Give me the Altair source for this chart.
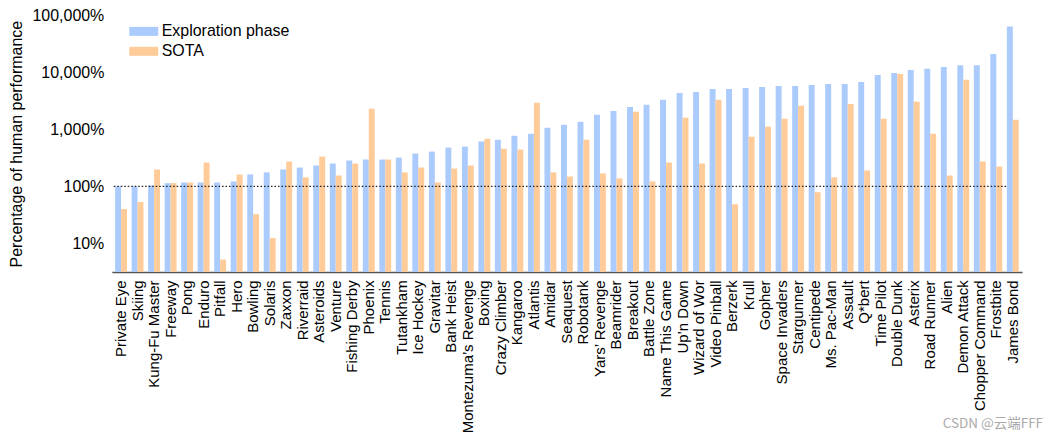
import altair as alt
import pandas as pd

games = ["Private Eye", "Skiing", "Kung-Fu Master", "Freeway", "Pong", "Enduro", "Pitfall", "Hero",
         "Bowling", "Solaris", "Zaxxon", "Riverraid", "Asteroids", "Venture", "Fishing Derby", "Phoenix",
         "Tennis", "Tutankham", "Ice Hockey", "Gravitar", "Bank Heist", "Montezuma\u2019s Revenge", "Boxing",
         "Crazy Climber", "Kangaroo", "Atlantis", "Amidar", "Seaquest", "Robotank", "Yars\u2019 Revenge",
         "Beamrider", "Breakout", "Battle Zone", "Name This Game", "Up\u2019n Down", "Wizard of Wor",
         "Video Pinball", "Berzerk", "Krull", "Gopher", "Space Invaders", "Stargunner", "Centipede",
         "Ms. Pac-Man", "Assault", "Q*bert", "Time Pilot", "Double Dunk", "Asterix", "Road Runner",
         "Alien", "Demon Attack", "Chopper Command", "Frostbite", "James Bond"]

exploration = [100, 100, 104, 114, 117, 117, 117, 122, 162, 176, 198, 214, 232, 252, 284, 296,
               296, 320, 377, 408, 479, 499, 611, 661, 777, 842, 1070, 1206, 1364, 1806,
               2111, 2482, 2700, 3300, 4370, 4540, 5130, 5130, 5340, 5560, 5780, 5780, 6000,
               6250, 6250, 6770, 9000, 9800, 11000, 11600, 12400, 13400, 13400, 21000, 64000]

sota = [40, 53, 198, 114, 117, 262, 5.2, 162, 32.5, 12.4, 273, 144, 334, 155, 252, 2300,
        296, 176, 214, 117, 206, 232, 688, 460, 442, 2924, 176, 149, 661, 169,
        138, 2033, 122, 262, 1600, 252, 3300, 48.5, 745, 1114, 1540, 2590, 79,
        144, 2800, 190, 1540, 9400, 3050, 842, 155, 7400, 273, 223, 1470]

series_names = ["Exploration phase", "SOTA"]
series_colors = ["#abcbfd", "#fecb99"]
y_ticks = [10, 100, 1000, 10000, 100000]

rows = []
for g, e, s in zip(games, exploration, sota):
    rows.append({"game": g, "series": series_names[0], "value": e})
    rows.append({"game": g, "series": series_names[1], "value": s})
df = pd.DataFrame(rows)

W, H = 912, 257
FONT = "Liberation Sans"

bars = alt.Chart(df).mark_bar().encode(
    x=alt.X("game:N", sort=games,
            scale=alt.Scale(paddingInner=0.28, paddingOuter=0.2),
            axis=alt.Axis(title=None, labelAngle=-90, labelAlign="right", labelBaseline="middle",
                          ticks=False, labelPadding=8, labelFontSize=15, labelFont=FONT,
                          labelColor="#000", domainColor="#555", domainWidth=1.5,
                          labelOverlap=False)),
    xOffset=alt.XOffset("series:N", sort=series_names,
                        scale=alt.Scale(paddingInner=0, paddingOuter=0)),
    y=alt.Y("value:Q",
            scale=alt.Scale(type="log", domain=[3.16, 100000], clamp=True, nice=False),
            axis=alt.Axis(title="Percentage of human performance", values=y_ticks,
                          labelExpr="format(datum.value, ',') + '%'",
                          ticks=False, domain=False, grid=False, labelPadding=8,
                          labelFontSize=16, labelFont=FONT, labelColor="#000",
                          titleFontSize=16, titleFont=FONT, titleFontWeight="normal",
                          titleColor="#000", titleX=-95, titleBaseline="middle")),
    color=alt.Color("series:N", sort=series_names,
                    scale=alt.Scale(domain=series_names, range=series_colors),
                    legend=alt.Legend(title=None, orient="none", legendX=24, legendY=8,
                                      symbolType="M-2.9,-0.9H2.9V0.9H-2.9Z", symbolSize=100,
                                      symbolStrokeWidth=0, labelFontSize=16, labelFont=FONT,
                                      labelColor="#000", labelOffset=10, rowPadding=4,
                                      symbolOpacity=1)),
)

ref_df = pd.DataFrame({"value": [100]})
ref = alt.Chart(ref_df).mark_rule(color="#222", strokeDash=[1.5, 2], strokeWidth=1.2).encode(
    y="value:Q", x=alt.value(2), x2=alt.value(W - 14)
)

wm_df = pd.DataFrame({"t": ["CSDN @云端FFF"]})
wm = alt.Chart(wm_df).mark_text(align="right", baseline="middle", fontSize=13.5,
                                font="Noto Sans CJK SC", color="#aaaaaa").encode(
    text="t:N", x=alt.value(W + 21), y=alt.value(H + 152)
)

chart = alt.layer(bars, ref, wm).properties(
    width=W, height=H,
    autosize=alt.AutoSizeParams(type="none"),
    padding={"left": 104, "top": 7, "right": 30, "bottom": 160},
).configure_view(stroke=None)

chart.save("out.html", embed_options={"renderer": "svg", "actions": False})
